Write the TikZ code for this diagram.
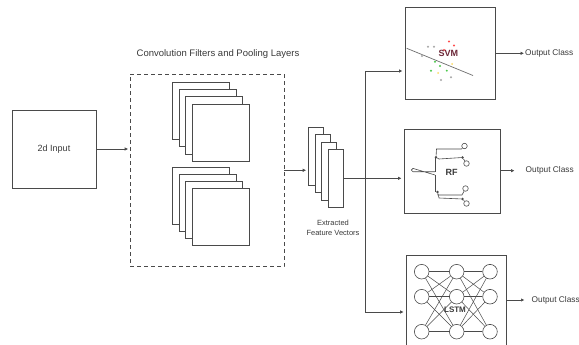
\documentclass[tikz,border=0pt]{standalone}
\usepackage{fontspec}
\setmainfont{Liberation Sans}
\usetikzlibrary{arrows.meta,calc}
\definecolor{ln}{HTML}{4A4A4A}
\definecolor{tx}{HTML}{3A3A3A}
\definecolor{svmred}{HTML}{6B2737}
\begin{document}
\begin{tikzpicture}[x=1pt,y=-1pt,
  box/.style={draw=ln, line width=0.8pt, fill=white, inner sep=0pt},
  arr/.style={draw=ln, line width=0.7pt, -{Latex[length=3.5pt,width=3.5pt]}},
  conn/.style={draw=ln, line width=0.7pt},
  lbl/.style={text=tx, inner sep=1pt, font=\fontsize{8.3}{10}\selectfont},
  neuron/.style={draw=ln, circle, minimum size=14.6pt, inner sep=0pt, line width=0.6pt, fill=white},
  leaf/.style={draw=ln, circle, minimum size=5.5pt, inner sep=0pt, line width=0.6pt, fill=white},
  knot/.style={fill=ln, circle, minimum size=2.8pt, inner sep=0pt}]
\useasboundingbox (0,0) rectangle (579,345);
\fill[white] (0,0) rectangle (579,345);

% input
\node[box, minimum width=84pt, minimum height=78pt, text=tx,
      font=\fontsize{9}{11}\selectfont] (inp) at (54,149) {2d Input};

% convolution block
\node[lbl, font=\fontsize{9.5}{11}\selectfont] (title) at (218,54) {Convolution Filters and Pooling Layers};
\node[draw=ln, dashed, dash pattern=on 4pt off 3pt, line width=0.7pt,
      minimum width=154pt, minimum height=192.7pt, inner sep=0pt] (conv) at (207,170.3) {};
\foreach \i in {0,...,3}{
  \node[box, minimum width=57pt, minimum height=57pt, anchor=north west] (sa\i) at ({171.7+6.8*\i},{81.7+7.4*\i}) {};
}
\foreach \i in {0,...,3}{
  \node[box, minimum width=57pt, minimum height=57pt, anchor=north west] (sb\i) at ({171.7+6.8*\i},{166.7+7.2*\i}) {};
}

% feature vectors
\foreach \i in {0,...,3}{
  \node[box, minimum width=15pt, minimum height=58pt, anchor=north west] (fv\i) at ({307.7+6.8*\i},{126.7+7.4*\i}) {};
}
\node[lbl, align=center, font=\fontsize{7.5}{9.5}\selectfont] (fvl) at (333,228) {Extracted\\Feature Vectors};

% classifier boxes
\node[box, minimum width=90.7pt, minimum height=92pt] (svm) at (450.3,53.3) {};
\node[box, minimum width=96.7pt, minimum height=84.3pt] (rf) at (452.3,171.2) {};
\node[box, minimum width=100pt, minimum height=96pt] (lstm) at (456,303) {};

% connectors
\draw[arr, shorten >=1.5pt] (inp.east) -- (inp.east -| conv.west);
\draw[arr, shorten >=1.5pt] (conv.east) -- (conv.east -| fv0.west);
\coordinate (br) at (365,177.9);
\draw[arr, shorten >=2pt] (fv3.east) -- (fv3.east -| rf.west);
\draw[arr, shorten >=2pt] (br) |- ([yshift=-17.7pt]svm.west);
\draw[arr, shorten >=2pt] (br) |- ([yshift=-9pt]lstm.west);

% outputs
\node[lbl, anchor=west] (o1) at (524,53.3) {Output Class};
\node[lbl, anchor=west] (o2) at (524.5,170.7) {Output Class};
\node[lbl, anchor=west] (o3) at (530.5,300) {Output Class};
\draw[arr] (svm.east) -- (o1.west);
\draw[arr, shorten >=10pt] (o2 -| rf.east) -- (o2.west);
\draw[arr, shorten >=6pt] (o3 -| lstm.east) -- (o3.west);

% SVM content
\draw[ln!80, line width=0.7pt] (406.7,48.3) -- (473,75.5);
\foreach \p in {(449,41.5),(454,45.5),(444,50)}{\fill[red!70] \p circle (1.1);}
\foreach \p in {(431,70.7),(446.8,70.7),(435,61.7),(440,66)}{\fill[green!70!black!70] \p circle (1.1);}
\foreach \p in {(428,46.7),(434,46.7),(441,80),(451,77.3),(422,56)}{\fill[gray!70] \p circle (1.1);}
\foreach \p in {(438,73),(452,64)}{\fill[yellow!60!orange!60] \p circle (1.0);}
\node[text=svmred, font=\bfseries\fontsize{9}{11}\selectfont, inner sep=0pt] (svmt) at (448.3,53.3) {SVM};

% RF content
\draw[conn, line width=0.6pt] (435,171.7) -- (413,171.7) arc[start angle=90, end angle=270, radius=1.65] -- (435,175);
\draw[conn, line width=0.6pt] (435,171.7) -- (435,157.3) (435,175) -- (435,192);
\node[knot] (k1) at (436,157.3) {};
\node[knot] (k2) at (437.5,192) {};
\node[leaf] (f1) at (464.5,146) {};
\node[leaf] (f2) at (466.5,163.5) {};
\node[leaf] (f3) at (465.5,188.5) {};
\node[leaf] (f4) at (466.5,203.5) {};
\node[knot] (k3) at (462.5,157.5) {};
\node[knot] (k4) at (462.5,199) {};
\draw[conn, line width=0.6pt] (k1) -- (436.5,149) -- (f1.west |- 0,149) -- (f1);
\draw[conn, line width=0.6pt] (k1) -- (439,159) -- (k3) -- (f2);
\draw[conn, line width=0.6pt] (k2) -- (438,195) -- (462,195) -- (f3);
\draw[conn, line width=0.6pt] (k2) -- (439,198) -- (k4) -- (f4);
\node[text=tx, font=\bfseries\fontsize{9}{11}\selectfont, inner sep=0pt] (rft) at (451.7,172) {RF};

% LSTM content
\foreach \c/\x in {1/421.7,2/456.7,3/490}{
  \foreach \r/\y in {1/271.7,2/296.7,3/331.7}{
    \node[neuron] (n\c\r) at (\x,\y) {};
  }
}
\foreach \a/\b in {1/2,2/3}{
  \foreach \r in {1,2,3}{
    \foreach \s in {1,2,3}{
      \draw[ln, line width=0.5pt] (n\a\r) -- (n\b\s);
    }
  }
}
\node[text=tx, font=\bfseries\fontsize{8}{10}\selectfont, inner sep=0pt] (lstmt) at (455,310) {LSTM};
\end{tikzpicture}
\end{document}
